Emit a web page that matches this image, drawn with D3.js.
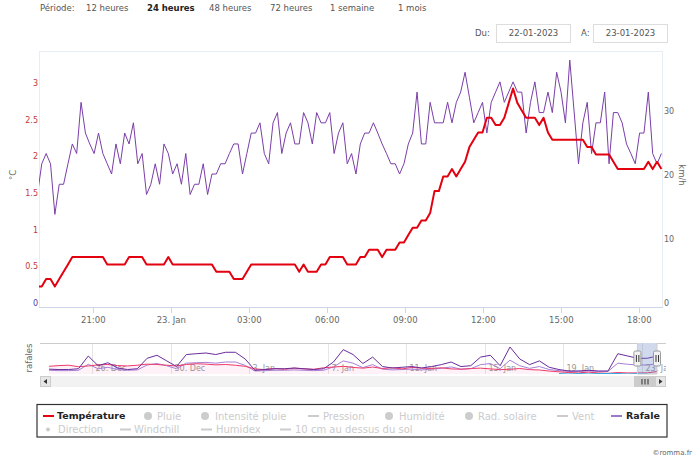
<!DOCTYPE html>
<html><head><meta charset="utf-8">
<script src="https://cdn.jsdelivr.net/npm/d3@7"></script>
<style>
body{margin:0;background:#fff;}
svg{display:block;font-family:"DejaVu Sans",Verdana,sans-serif;}
</style></head><body>
<svg id="c" width="700" height="462"></svg>
<script>
// ---------------- DATA ----------------
const periodTitle = "Période:";
const periodLabels = ["12 heures","24 heures","48 heures","72 heures","1 semaine","1 mois"];
const activePeriod = "24 heures";
const dateFrom = "22-01-2023";
const dateTo = "23-01-2023";

// 10-minute station samples (24 h covered by 144 samples)
const sampleStart = new Date(2023,0,22,18,51);
const sampleStepMin = 1440/143;

const temperature = [ // °C
 0.23,0.23,0.33,0.33,0.23,0.33,0.43,0.53,0.63,0.63,
 0.63,0.63,0.63,0.63,0.63,0.63,0.53,0.53,0.53,0.53,
 0.53,0.63,0.63,0.63,0.63,0.53,0.53,0.53,0.53,0.53,
 0.63,0.53,0.53,0.53,0.53,0.53,0.53,0.53,0.53,0.53,
 0.53,0.43,0.43,0.43,0.43,0.33,0.33,0.33,0.43,0.53,
 0.53,0.53,0.53,0.53,0.53,0.53,0.53,0.53,0.53,0.53,
 0.43,0.53,0.43,0.43,0.43,0.53,0.53,0.63,0.63,0.63,
 0.63,0.53,0.53,0.53,0.63,0.63,0.73,0.73,0.73,0.63,
 0.73,0.73,0.73,0.83,0.83,0.93,1.03,1.03,1.13,1.13,
 1.23,1.53,1.53,1.73,1.73,1.83,1.73,1.83,1.93,2.13,
 2.23,2.33,2.33,2.53,2.53,2.43,2.43,2.53,2.73,2.93,
 2.73,2.63,2.53,2.53,2.53,2.43,2.53,2.33,2.23,2.23,
 2.23,2.23,2.23,2.23,2.23,2.23,2.13,2.13,2.03,2.03,
 2.03,2.03,1.93,1.83,1.83,1.83,1.83,1.83,1.83,1.83,
 1.93,1.83,1.93,1.83];

const rafale = [ // km/h
 17.0,21.8,23.4,21.8,13.9,18.6,18.6,21.8,24.9,23.4,
 31.4,26.6,24.9,23.4,26.6,23.4,21.8,20.2,24.9,21.8,
 26.6,24.9,28.2,21.8,23.4,17.0,18.6,21.8,18.6,24.9,
 23.4,20.2,21.8,18.6,23.4,17.0,18.6,18.6,21.8,17.0,
 20.2,20.2,21.8,21.8,23.4,24.9,24.9,20.2,23.4,26.6,
 26.6,28.2,23.4,21.8,28.2,29.8,23.4,26.6,28.2,24.9,
 24.9,29.8,28.2,24.9,29.8,28.2,28.2,29.8,23.4,26.6,
 28.2,21.8,23.4,20.2,24.9,26.6,26.6,28.2,26.6,24.9,
 23.4,21.8,21.8,20.2,21.8,24.9,26.6,33.0,24.9,24.9,
 31.4,28.2,28.2,28.2,31.4,28.2,31.4,33.0,36.1,32.2,
 28.2,29.8,31.4,26.6,31.4,33.0,34.6,31.4,33.0,34.6,
 33.0,33.0,26.6,31.4,34.6,29.8,29.8,33.0,29.8,36.1,
 33.0,28.2,38.0,29.9,21.8,28.2,31.4,23.4,28.2,28.2,
 33.0,21.8,29.8,29.8,28.2,24.9,23.4,21.8,26.6,26.6,
 33.0,23.4,21.8,23.4];

const tempTicks = [0,0.5,1,1.5,2,2.5,3];
const windTicks = [0,10,20,30];
const viewStart = new Date(2023,0,22,18,54,40);
const viewEnd   = new Date(2023,0,23,18,54,40);

// Navigator: one month, 12-hour samples
const navStart = new Date(2022,11,23,18,55);
const navEnd   = new Date(2023,0,23,18,55);
const navSampleStart = new Date(2022,11,23,19,0);
const navStepHours = 12;
const navRafale = [
 5.6,5.1,5.1,6.2,23.6,10.3,14.4,7.2,5.1,6.2,
 20.5,24.6,16.9,9.2,25.6,26.7,27.7,25.6,28.7,28.7,
 19.5,4.1,5.1,6.2,6.2,7.2,6.2,5.1,6.2,15.4,
 32.3,25.6,13.3,22.1,9.2,7.2,8.2,9.2,7.2,9.2,
 11.8,15.4,9.2,10.3,22.1,24.6,10.3,35.9,19.5,11.8,
 16.9,8.2,5.1,3.1,3.1,4.1,3.1,3.1,26.7,23.6,
 20.5,20.5,23.6];
const navVent = [
 4.1,3.6,3.6,4.1,12.3,6.2,8.2,5.1,4.1,4.6,
 11.3,13.3,10.3,6.2,13.8,14.4,14.9,13.8,15.4,15.4,
 10.8,3.1,3.6,4.1,4.1,4.6,4.1,3.6,4.1,8.7,
 16.9,13.8,7.7,11.8,5.6,4.6,5.1,5.6,4.6,5.6,
 6.7,8.7,5.6,6.2,11.8,13.3,6.2,17.9,10.3,6.7,
 9.2,5.1,3.6,2.6,2.6,3.1,2.6,2.6,13.8,12.3,
 11.3,11.3,12.8];
const navTemp = [
 9.5,10.5,11.0,9.0,10.0,11.5,12.0,10.5,10.0,11.0,
 12.5,12.0,11.0,10.0,12.0,13.0,12.5,11.5,12.0,11.0,
 9.5,6.0,5.0,6.5,5.5,7.0,6.0,5.5,7.5,8.5,
 9.5,8.0,7.0,8.5,6.5,7.5,6.0,8.0,7.0,6.5,
 7.5,6.0,5.5,6.5,7.0,6.0,5.0,5.5,6.5,5.0,
 4.5,3.0,2.0,1.0,0.5,1.5,0.5,0.0,1.0,0.5,
 0.5,0.5,2.5];
const navWindchillStartIndex = 52;
const navWindchill = [-0.5,-1.0,-0.5,-1.0,-0.5,-0.5,-0.5,-1.0,-0.5,-0.5];
const navTitle = "rafales";

const legendNames = ["Température","Pluie","Intensité pluie","Pression","Humidité","Rad. solaire","Vent","Rafale",
                     "Direction","Windchill","Humidex","10 cm au dessus du sol"];
const legendActive = ["Température","Rafale"];
const credit = "©romma.fr";

// ---------------- LAYOUT / STYLE ----------------
const svg = d3.select("#c");
const P = {left:39, right:663, top:51, bottom:307};
const C = {temp:"#e3000f", gust:"#7b3ea8", axis:"#666666", light:"#ccd6eb"};

const series = temperature.map((v,i)=>({t:new Date(sampleStart.getTime()+i*sampleStepMin*60000), temp:v, gust:rafale[i]}));

const x = d3.scaleTime().domain([viewStart, viewEnd]).range([P.left, P.right]);
const yL = d3.scaleLinear().domain([0,3]).range([303.3, 83.3]);
const yR = d3.scaleLinear().domain([0,30]).range([303.3, 111.3]);

// Header
const hdr = svg.append("g").attr("font-size",8.5).attr("fill","#555");
hdr.append("text").attr("x",40).attr("y",11).text(periodTitle);
const periodX = [86,147,209,270,330,398];
periodLabels.forEach((p,i)=>{
  hdr.append("text").attr("x",periodX[i]).attr("y",11)
    .attr("font-weight", p===activePeriod?"bold":"normal")
    .attr("fill", p===activePeriod?"#222":"#555").text(p);
});
hdr.append("text").attr("x",475).attr("y",36).text("Du:");
hdr.append("rect").attr("x",496.5).attr("y",24.5).attr("width",74).attr("height",18).attr("fill","#fff").attr("stroke","#dddddd");
hdr.append("text").attr("x",533.5).attr("y",36).attr("text-anchor","middle").text(dateFrom);
hdr.append("text").attr("x",581).attr("y",36).text("A:");
hdr.append("rect").attr("x",593.5).attr("y",24.5).attr("width",74).attr("height",18).attr("fill","#fff").attr("stroke","#dddddd");
hdr.append("text").attr("x",630.5).attr("y",36).attr("text-anchor","middle").text(dateTo);

// Plot frame
svg.append("rect").attr("x",P.left+0.5).attr("y",P.top+0.5).attr("width",P.right-P.left-1).attr("height",P.bottom-P.top)
  .attr("fill","none").attr("stroke","#e6edf4");
svg.append("line").attr("x1",P.left).attr("x2",P.right).attr("y1",P.bottom+0.5).attr("y2",P.bottom+0.5).attr("stroke",C.light);

// X axis ticks
const fmtH = d3.timeFormat("%H:%M"), fmtD = d3.timeFormat("%-d. %b");
const xt = x.ticks(d3.timeHour.every(3));
const xg = svg.append("g");
xt.forEach(t=>{
  const px = Math.round(x(t))+0.5;
  xg.append("line").attr("x1",px).attr("x2",px).attr("y1",P.bottom).attr("y2",P.bottom+6).attr("stroke",C.light);
  xg.append("text").attr("x",x(t)).attr("y",322.5).attr("text-anchor","middle").attr("font-size",8.5).attr("fill",C.axis)
    .text(t.getHours()===0?fmtD(t):fmtH(t));
});

// Y axes labels
tempTicks.forEach(v=>{
  svg.append("text").attr("x",38).attr("y",yL(v)).attr("dy","0.35em").attr("text-anchor","end").attr("font-size",8)
    .attr("fill", v===0?"#4646b4":"#c43a3a").text(v);
});
windTicks.forEach(v=>{
  svg.append("text").attr("x",664).attr("y",yR(v)).attr("dy","0.35em").attr("font-size",8).attr("fill",C.axis).text(v);
});
svg.append("text").attr("transform","translate(16,175) rotate(-90)").attr("text-anchor","middle").attr("font-size",8.5).attr("fill",C.axis).text("°C");
svg.append("text").attr("transform","translate(679,175) rotate(90)").attr("text-anchor","middle").attr("font-size",8.5).attr("fill",C.axis).text("km/h");

// Series
svg.append("clipPath").attr("id","pc").append("rect").attr("x",P.left).attr("y",P.top).attr("width",P.right-P.left).attr("height",P.bottom-P.top);
const pg = svg.append("g").attr("clip-path","url(#pc)");
pg.append("path").datum(series).attr("fill","none").attr("stroke",C.gust).attr("stroke-width",1).attr("stroke-linejoin","round")
  .attr("d", d3.line().x(d=>x(d.t)).y(d=>yR(d.gust)));
pg.append("path").datum(series).attr("fill","none").attr("stroke",C.temp).attr("stroke-width",2).attr("stroke-linejoin","round")
  .attr("d", d3.line().x(d=>x(d.t)).y(d=>yL(d.temp)));

// ---------------- NAVIGATOR ----------------
const N = {left:49, right:657, top:343, bottom:374, oL:40, oR:666};
const nx = d3.scaleTime().domain([navStart, navEnd]).range([N.left, N.right]);
const ny = d3.scaleLinear().domain([-1,40]).range([N.bottom, N.top+1]);
const navPts = navRafale.map((v,i)=>({t:new Date(navSampleStart.getTime()+i*navStepHours*3600000), g:v, w:navVent[i], tp:navTemp[i]}));
const ng = svg.append("g");
svg.append("clipPath").attr("id","nc").append("rect").attr("x",N.oL).attr("y",N.top).attr("width",N.oR-N.oL).attr("height",N.bottom-N.top);
const nclip = ng.append("g").attr("clip-path","url(#nc)");
// grid + labels
d3.timeDay.range(new Date(2022,11,26), navEnd, 4).forEach(t=>{
  const px = Math.round(nx(t))+0.5;
  nclip.append("line").attr("x1",px).attr("x2",px).attr("y1",N.top).attr("y2",N.bottom).attr("stroke","#e6e6e6");
  nclip.append("text").attr("x",px+3).attr("y",370.5).attr("font-size",8).attr("fill","#999").text(fmtD(t));
});
nclip.append("path").datum(navPts).attr("fill","rgba(236,60,160,0.07)")
  .attr("d", d3.area().x(d=>nx(d.t)).y0(N.bottom).y1(d=>ny(d.tp)));
nclip.append("path").datum(navPts).attr("fill","none").attr("stroke","#a77fd6").attr("stroke-width",1)
  .attr("d", d3.line().x(d=>nx(d.t)).y(d=>ny(d.w)));
nclip.append("path").datum(navPts).attr("fill","none").attr("stroke","#ee3a6a").attr("stroke-width",1)
  .attr("d", d3.line().x(d=>nx(d.t)).y(d=>ny(d.tp)));
nclip.append("path").datum(navPts.slice(navWindchillStartIndex).map((d,i)=>({t:d.t,v:navWindchill[i]})))
  .attr("fill","none").attr("stroke","#3aa8e0").attr("stroke-width",1.2)
  .attr("d", d3.line().x(d=>nx(d.t)).y(d=>ny(d.v)));
nclip.append("path").datum(navPts).attr("fill","none").attr("stroke","#6a2c9c").attr("stroke-width",1)
  .attr("d", d3.line().x(d=>nx(d.t)).y(d=>ny(d.g)));
// selection zone
const zL = nx(viewStart), zR = nx(viewEnd);
ng.append("rect").attr("x",zL).attr("y",N.top).attr("width",zR-zL).attr("height",N.bottom-N.top).attr("fill","rgba(102,133,194,0.3)");
ng.append("path").attr("fill","none").attr("stroke","#cccccc")
  .attr("d",`M${N.oL},${N.top+0.5}H${zL}V${N.bottom}H${zR}V${N.top+0.5}H${N.oR}`);
[zL,zR].forEach(hx=>{
  ng.append("rect").attr("x",hx-3.5).attr("y",351).attr("width",7).attr("height",15).attr("rx",1.5)
    .attr("fill","#f2f2f2").attr("stroke","#999");
  ng.append("path").attr("stroke","#333").attr("stroke-width",1).attr("d",`M${hx-1},355V362M${hx+1.5},355V362`);
});
// scrollbar
const sb = svg.append("g");
sb.append("rect").attr("x",N.oL+0.5).attr("y",376.5).attr("width",N.oR-N.oL-1).attr("height",10).attr("fill","#f2f2f2").attr("stroke","#f2f2f2");
sb.append("rect").attr("x",N.oL+0.5).attr("y",376.5).attr("width",10).attr("height",10).attr("fill","#e6e6e6").attr("stroke","#cccccc");
sb.append("rect").attr("x",N.oR-10.5).attr("y",376.5).attr("width",10).attr("height",10).attr("fill","#e6e6e6").attr("stroke","#cccccc");
sb.append("path").attr("fill","#333").attr("d",`M${N.oL+7},379L${N.oL+3.5},381.5L${N.oL+7},384Z`);
sb.append("path").attr("fill","#333").attr("d",`M${N.oR-7},379L${N.oR-3.5},381.5L${N.oR-7},384Z`);
const thumbL = 634, thumbR = 655;
sb.append("rect").attr("x",thumbL+0.5).attr("y",376.5).attr("width",thumbR-thumbL).attr("height",10).attr("fill","#cccccc").attr("stroke","#cccccc");
const tc = (thumbL+thumbR)/2;
sb.append("path").attr("stroke","#333").attr("d",`M${tc-2.5},379V384.5M${tc+0.5},379V384.5M${tc+3.5},379V384.5`);
svg.append("text").attr("transform","translate(32,358) rotate(-90)").attr("text-anchor","middle").attr("font-size",8.5).attr("fill",C.axis).text(navTitle);

// ---------------- LEGEND ----------------
svg.append("rect").attr("x",37).attr("y",404.5).attr("width",630).attr("height",32.5).attr("fill","#fff").attr("stroke","#333").attr("stroke-width",1.2);
const legendLayout = [
 {sym:"line",s:43,tx:57,row:0},{sym:"circle",s:148,tx:157,row:0},{sym:"circle",s:205,tx:215,row:0},
 {sym:"line",s:308,tx:323,row:0},{sym:"circle",s:389,tx:399,row:0},{sym:"circle",s:469,tx:478,row:0},
 {sym:"line",s:557,tx:572,row:0},{sym:"line",s:611,tx:626,row:0},
 {sym:"dot",s:48,tx:58,row:1},{sym:"line",s:120,tx:134,row:1},{sym:"line",s:201,tx:216,row:1},{sym:"line",s:280,tx:295,row:1}];
const legendSymColor = {"Température":C.temp,"Rafale":"#9a79c9"};
legendNames.forEach((n,i)=>{
  const L = legendLayout[i], cy = L.row===0?416:429.5;
  const active = legendActive.includes(n);
  const col = active ? legendSymColor[n] : "#cccccc";
  if(L.sym==="line") svg.append("line").attr("x1",L.s).attr("x2",L.s+11).attr("y1",cy).attr("y2",cy).attr("stroke",col).attr("stroke-width",2);
  else if(L.sym==="circle") svg.append("circle").attr("cx",L.s).attr("cy",cy).attr("r",4).attr("fill",col);
  else svg.append("circle").attr("cx",L.s).attr("cy",cy).attr("r",2).attr("fill",col);
  svg.append("text").attr("x",L.tx).attr("y",cy).attr("dy","0.36em")
    .attr("font-size",active?9.5:10).attr("font-weight",active?"bold":"normal")
    .attr("fill",active?"#222":"#cccccc").text(n);
});
svg.append("text").attr("x",692).attr("y",455).attr("text-anchor","end").attr("font-size",7).attr("fill","#666").text(credit);
</script>
</body></html>
